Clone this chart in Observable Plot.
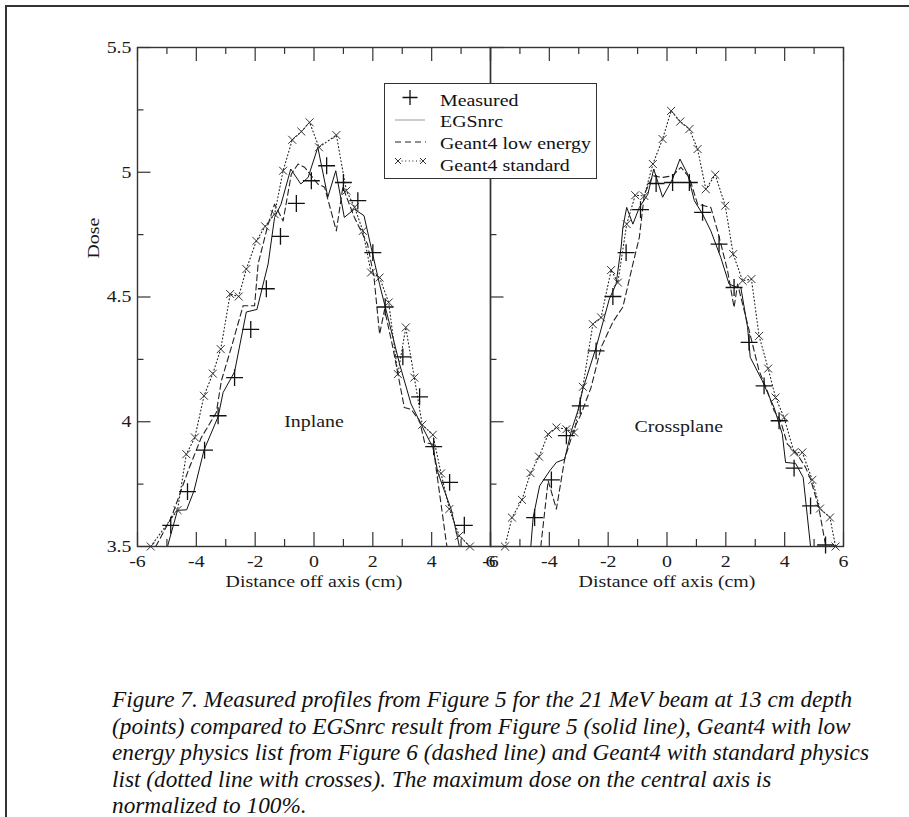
<!DOCTYPE html>
<html><head><meta charset="utf-8">
<script src="https://cdn.jsdelivr.net/npm/d3@7"></script>
<script src="https://cdn.jsdelivr.net/npm/@observablehq/plot@0.6"></script>
<style>
html,body{margin:0;padding:0;background:#fff;overflow:hidden;width:909px;height:817px;}
#box{position:absolute;left:5px;top:5px;width:1000px;height:1000px;border:2px solid #333;box-sizing:border-box;}
#chart{position:absolute;left:0;top:0;}
#legend{position:absolute;left:384px;top:83px;width:213px;height:96px;border:1.3px solid #333;background:#fff;box-sizing:border-box;font-family:'Liberation Serif','Times New Roman',serif;font-size:17px;color:#111;}
#legend .row{position:absolute;left:0;width:100%;height:22px;}
#legend svg{position:absolute;left:0;top:0;}
#legend span{position:absolute;left:55px;line-height:17px;white-space:nowrap;transform:scaleX(1.17);transform-origin:left center;}
#caption{position:absolute;left:112px;top:686px;font-family:'Liberation Serif','Times New Roman',serif;font-style:italic;font-size:24px;line-height:26.5px;white-space:nowrap;color:#111;transform:scaleX(0.97);transform-origin:left top;}
</style></head><body>
<div id="box"></div>
<div id="chart"></div>
<div id="legend"></div>
<div id="caption"></div>
<script>
// ---------- data ----------
const panels = ["Inplane", "Crossplane"];
const seriesNames = ["Measured", "EGSnrc", "Geant4 low energy", "Geant4 standard"];

// Inplane
const inMeasX = [-4.87, -4.30, -3.72, -3.26, -2.70, -2.15, -1.62, -1.14, -0.60, -0.09, 0.43, 1.00, 1.49, 2.00, 2.42, 3.02, 3.59, 4.07, 4.61, 5.11];
const inMeasY = [3.585, 3.72, 3.886, 4.024, 4.177, 4.37, 4.533, 4.743, 4.875, 4.966, 5.026, 4.959, 4.886, 4.678, 4.46, 4.26, 4.10, 3.90, 3.757, 3.585];

const inEgsX = [-4.98, -4.64, -4.33, -4.08, -3.74, -3.26, -3.09, -2.70, -2.30, -1.94, -1.56, -1.34, -1.12, -0.79, -0.45, -0.20, 0.13, 0.47, 0.74, 1.03, 1.37, 1.70, 1.94, 2.23, 2.57, 2.91, 3.30, 3.64, 4.04, 4.21, 4.43, 4.66, 4.88, 4.94];
const inEgsY = [3.5, 3.645, 3.647, 3.723, 3.886, 4.02, 4.117, 4.20, 4.44, 4.45, 4.632, 4.819, 4.872, 5.013, 4.953, 4.979, 5.10, 4.90, 5.006, 4.819, 4.852, 4.826, 4.70, 4.55, 4.391, 4.231, 4.071, 3.99, 3.897, 3.797, 3.724, 3.65, 3.536, 3.5];

const inLowX = [-5.38, -4.85, -4.28, -3.83, -3.32, -3.15, -2.81, -2.41, -2.02, -1.90, -1.56, -1.34, -1.05, -0.77, -0.54, -0.32, 0.13, 0.36, 0.76, 0.98, 1.37, 1.82, 2.04, 2.23, 2.40, 2.68, 3.07, 3.30, 3.59, 3.76, 4.04, 4.26, 4.49, 4.52];
const inLowY = [3.5, 3.616, 3.803, 3.937, 4.037, 4.164, 4.298, 4.465, 4.465, 4.632, 4.792, 4.872, 4.805, 4.993, 5.033, 5.02, 4.953, 4.94, 4.765, 4.94, 4.82, 4.712, 4.578, 4.351, 4.45, 4.298, 4.057, 4.05, 4.004, 3.917, 3.91, 3.72, 3.523, 3.5];

const inStdX = [-5.55, -4.64, -4.34, -4.05, -3.74, -3.44, -3.17, -2.85, -2.56, -2.30, -1.96, -1.66, -1.34, -1.05, -0.74, -0.43, -0.15, 0.17, 0.76, 1.10, 1.38, 1.66, 1.94, 2.23, 2.54, 2.85, 3.12, 3.41, 3.68, 4.04, 4.32, 4.60, 4.94, 5.30];
const inStdY = [3.5, 3.646, 3.87, 3.937, 4.104, 4.193, 4.291, 4.512, 4.502, 4.612, 4.725, 4.783, 4.832, 5.006, 5.13, 5.163, 5.20, 5.10, 5.149, 4.926, 4.86, 4.765, 4.598, 4.578, 4.478, 4.191, 4.378, 4.177, 3.988, 3.948, 3.793, 3.65, 3.543, 3.5];

// Crossplane
const crMeasX = [-4.50, -3.93, -3.42, -2.95, -2.41, -1.84, -1.39, -0.90, -0.37, 0.19, 0.76, 1.21, 1.77, 2.28, 2.79, 3.30, 3.81, 4.32, 4.88, 5.39];
const crMeasY = [3.616, 3.767, 3.944, 4.064, 4.284, 4.502, 4.678, 4.85, 4.955, 4.959, 4.959, 4.839, 4.712, 4.538, 4.318, 4.144, 4.004, 3.814, 3.663, 3.506];

const crEgsX = [-4.63, -4.55, -4.33, -3.99, -3.76, -3.48, -3.25, -3.03, -2.86, -2.41, -1.96, -1.73, -1.56, -1.50, -1.37, -1.16, -0.94, -0.65, -0.45, -0.15, 0.19, 0.44, 0.70, 0.93, 1.21, 1.49, 1.83, 2.11, 2.40, 2.51, 2.74, 2.83, 3.24, 3.64, 3.92, 4.03, 4.37, 4.63, 4.88];
const crEgsY = [3.5, 3.616, 3.743, 3.803, 3.837, 3.85, 3.964, 4.044, 4.131, 4.298, 4.492, 4.552, 4.70, 4.779, 4.859, 4.792, 4.859, 4.912, 5.013, 4.90, 4.973, 5.053, 4.993, 4.886, 4.832, 4.765, 4.658, 4.552, 4.538, 4.538, 4.378, 4.258, 4.164, 4.057, 3.95, 3.837, 3.833, 3.777, 3.5];

const crLowX = [-4.29, -4.04, -3.76, -3.48, -3.14, -2.92, -2.58, -2.24, -1.84, -1.50, -1.16, -0.94, -0.77, -0.48, -0.15, 0.19, 0.47, 0.76, 1.04, 1.49, 1.72, 2.06, 2.28, 2.40, 2.74, 3.13, 3.41, 3.64, 3.86, 4.09, 4.43, 4.71, 4.88, 5.16, 5.39, 5.45];
const crLowY = [3.5, 3.764, 3.65, 3.85, 3.977, 4.031, 4.138, 4.298, 4.40, 4.46, 4.632, 4.739, 4.912, 4.986, 4.979, 4.986, 5.02, 4.979, 4.872, 4.859, 4.765, 4.605, 4.458, 4.552, 4.391, 4.204, 4.124, 4.044, 4.004, 3.911, 3.87, 3.817, 3.77, 3.656, 3.506, 3.5];

const crStdX = [-5.51, -5.27, -4.93, -4.64, -4.35, -4.04, -3.76, -3.42, -3.16, -2.86, -2.52, -2.24, -1.90, -1.67, -1.37, -1.08, -0.77, -0.48, -0.15, 0.14, 0.45, 0.76, 1.04, 1.32, 1.64, 1.98, 2.25, 2.57, 2.87, 3.13, 3.44, 3.69, 3.98, 4.32, 4.60, 4.94, 5.20, 5.54, 5.73];
const crStdY = [3.5, 3.616, 3.687, 3.794, 3.86, 3.95, 3.977, 3.97, 3.957, 4.14, 4.391, 4.418, 4.608, 4.558, 4.792, 4.908, 4.905, 5.033, 5.133, 5.246, 5.203, 5.173, 5.093, 4.932, 4.99, 4.866, 4.672, 4.565, 4.572, 4.344, 4.213, 4.097, 4.017, 3.877, 3.877, 3.767, 3.652, 3.616, 3.5];

// axes / labels
const xMajor = [-6, -4, -2, 0, 2, 4, 6];
const xMinor = [-5, -3, -1, 1, 3, 5];
const yMajor = [3.5, 4, 4.5, 5, 5.5];
const yMinor = [3.75, 4.25, 4.75, 5.25];
const panelLabelX = [0, 0.4];
const panelLabelY = [4.0, 3.98];
const xTitle = "Distance off axis (cm)";
const yTitle = "Dose";
const captionLines = [
  "Figure 7. Measured profiles from Figure 5 for the 21 MeV beam at 13 cm depth",
  "(points) compared to EGSnrc result from Figure 5 (solid line), Geant4 with low",
  "energy physics list from Figure 6 (dashed line) and Geant4 with standard physics",
  "list (dotted line with crosses). The maximum dose on the central axis is",
  "normalized to 100%."
];

// ---------- build ----------
const rows = (panel, xs, ys) => xs.map((x, i) => ({panel, x, y: ys[i]}));
const measured = [...rows(panels[0], inMeasX, inMeasY), ...rows(panels[1], crMeasX, crMeasY)];
const egs = [...rows(panels[0], inEgsX, inEgsY), ...rows(panels[1], crEgsX, crEgsY)];
const low = [...rows(panels[0], inLowX, inLowY), ...rows(panels[1], crLowX, crLowY)];
const std = [...rows(panels[0], inStdX, inStdY), ...rows(panels[1], crStdX, crStdY)];
const panelLabels = panels.map((p, i) => ({panel: p, x: panelLabelX[i], y: panelLabelY[i]}));

const W = 909, H = 610, mT = 47, mB = 64, mL = 136, mR = 66;
const innerH = H - mT - mB;
const facetW = (W - mL - mR) / 2;
const majorLen = 14, minorLen = 7;
const axisColor = "#333";

const chart = Plot.plot({
  width: W, height: H,
  marginTop: mT, marginBottom: mB, marginLeft: mL, marginRight: mR,
  style: {fontFamily: "'Liberation Serif','Times New Roman',serif", fontSize: "17px", color: "#1a1a1a", background: "transparent", overflow: "visible"},
  fx: {domain: panels, padding: 0, axis: null, label: null},
  x: {domain: [-6, 6], axis: null},
  y: {domain: [3.5, 5.5], axis: null},
  marks: [
    Plot.line(egs, {fx: "panel", x: "x", y: "y", stroke: "#111", strokeWidth: 1, clip: true}),
    Plot.line(low, {fx: "panel", x: "x", y: "y", stroke: "#222", strokeWidth: 1.1, strokeDasharray: "6,3.5", clip: true}),
    Plot.line(std, {fx: "panel", x: "x", y: "y", stroke: "#222", strokeWidth: 1.1, strokeDasharray: "1,2.6", clip: true}),
    Plot.dot(std, {fx: "panel", x: "x", y: "y", symbol: "times", r: 3.7, stroke: "#333", strokeWidth: 1}),
    Plot.dot(measured, {fx: "panel", x: "x", y: "y", symbol: "plus", r: 5.5, stroke: "#111", strokeWidth: 1.3}),
    // inward ticks
    Plot.tickX(xMajor, {x: d => d, insetTop: innerH - majorLen, stroke: axisColor, strokeWidth: 1.2}),
    Plot.tickX(xMinor, {x: d => d, insetTop: innerH - minorLen, stroke: axisColor, strokeWidth: 1.2}),
    Plot.tickX(xMajor, {x: d => d, insetBottom: innerH - majorLen, stroke: axisColor, strokeWidth: 1.2}),
    Plot.tickX(xMinor, {x: d => d, insetBottom: innerH - minorLen, stroke: axisColor, strokeWidth: 1.2}),
    Plot.tickY(yMajor, {y: d => d, insetRight: facetW - majorLen, stroke: axisColor, strokeWidth: 1.2}),
    Plot.tickY(yMinor, {y: d => d, insetRight: facetW - minorLen, stroke: axisColor, strokeWidth: 1.2}),
    Plot.frame({stroke: axisColor, strokeWidth: 1.4}),
    Plot.axisX({ticks: xMajor, tickSize: 0, tickPadding: 8, tickFormat: d => String(d), label: null, fill: "#1a1a1a"}),
    Plot.axisY({ticks: yMajor, tickSize: 0, tickPadding: 6, tickFormat: d => String(d), label: null, fill: "#1a1a1a"}),
    Plot.text(panelLabels, {fx: "panel", x: "x", y: "y", text: "panel", fill: "#1a1a1a"}),
    Plot.text([xTitle], {text: d => d, frameAnchor: "bottom", dy: 40, fill: "#1a1a1a"}),
    Plot.text([yTitle], {fx: [panels[0]], text: d => d, frameAnchor: "top-left", dx: -51, dy: 211, rotate: -90, fill: "#1a1a1a"})
  ]
});

// widen glyphs horizontally to match the reference typeface proportions
chart.querySelectorAll("text").forEach(t => {
  const tr = t.getAttribute("transform");
  if (tr) t.setAttribute("transform", tr + " scale(1.17,1)");
  else {
    const x = +t.getAttribute("x") || 0, y = +t.getAttribute("y") || 0;
    t.setAttribute("transform", `translate(${x},${y}) scale(1.17,1) translate(${-x},${-y})`);
  }
});
document.getElementById("chart").appendChild(chart);

// legend
const legend = document.getElementById("legend");
const symbolSvgs = [
  `<svg width="50" height="22"><path d="M25,4 V19 M17.5,11.5 H32.5" stroke="#111" stroke-width="1.3" fill="none"/></svg>`,
  `<svg width="50" height="22"><path d="M10,12 H40" stroke="#999" stroke-width="1" fill="none"/></svg>`,
  `<svg width="50" height="22"><path d="M10,12 H41" stroke="#222" stroke-width="1.2" stroke-dasharray="6,4" fill="none"/></svg>`,
  `<svg width="50" height="22"><path d="M13,9 H38" stroke="#222" stroke-width="1.1" stroke-dasharray="1,2.6" fill="none"/><path d="M10,6 L16,12 M16,6 L10,12 M35,6 L41,12 M41,6 L35,12" stroke="#333" stroke-width="1" fill="none"/></svg>`
];
const rowTops = [0, 22, 44, 66];
seriesNames.forEach((name, i) => {
  const row = document.createElement("div");
  row.className = "row";
  row.style.top = (rowTops[i] + 2) + "px";
  row.innerHTML = symbolSvgs[i] + `<span style="top:${i === 0 ? 6 : 5}px">${name}</span>`;
  legend.appendChild(row);
});

// caption
document.getElementById("caption").innerHTML = captionLines.join("<br>");
</script>
</body></html>
